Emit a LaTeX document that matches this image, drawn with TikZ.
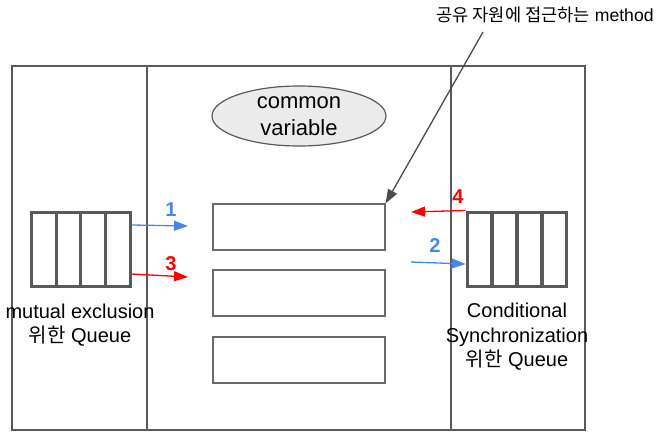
\documentclass[tikz,border=0pt]{standalone}
\usepackage{fontspec}
\setmainfont{Liberation Sans}
\newfontfamily\kr{Noto Sans CJK KR}
\usetikzlibrary{arrows.meta,shapes.geometric}
\definecolor{gline}{HTML}{595959}
\definecolor{qblue}{HTML}{4A86E8}
\definecolor{qred}{HTML}{FF0000}
\tikzset{
  cell/.style={draw=gline,line width=3pt,minimum width=24.75pt,minimum height=74pt,inner sep=0pt},
  slot/.style={draw=gline!90,line width=1.2pt,minimum width=172pt,minimum height=46pt,inner sep=0pt},
  lbl/.style={font=\fontsize{20}{24.5}\selectfont,align=center},
  num/.style={font=\fontsize{20}{20}\selectfont\bfseries},
  tip/.style={-{Triangle[length=14pt,width=10pt]},line width=1.3pt},
}
\begin{document}
\begin{tikzpicture}[x=1pt,y=-1pt]
  \useasboundingbox (0,0) rectangle (663,442);
  % monitor frame
  \draw[gline,line width=1.3pt] (12,66) rectangle (585,430);
  \draw[gline,line width=1.3pt] (147,66) -- (147,430);
  \draw[gline,line width=1.3pt] (451,66) -- (451,430);
  % shared part
  \node[ellipse,draw=gline,line width=1.2pt,fill=gray!16,minimum width=174pt,minimum height=60pt,
        label={[lbl,font=\fontsize{22}{27}\selectfont]center:common\\variable}] (cv) at (299,116) {};
  \node[slot] (m1) at (299,227) {};
  \node[slot] (m2) at (299,293) {};
  \node[slot] (m3) at (299,360) {};
  % queues
  \foreach \i in {1,...,4}
    \node[cell] (lq\i) at ({19.1+24.75*\i},249) {};
  \foreach \i in {1,...,4}
    \node[cell] (rq\i) at ({454.5+25*\i},249) {};
  \node[lbl] (lt) at (80,325) {mutual exclusion\\{\kr 위한} Queue};
  \node[lbl] (rt) at (517,337) {Conditional\\Synchronization\\{\kr 위한} Queue};
  \node[font=\fontsize{17.6}{17.6}\selectfont] (mt) at (545,15) {{\kr 공유 자원에 접근하는} method};
  % arrows
  \coordinate (m0) at (483,32);
  \coordinate (p1) at (188,226);
  \coordinate (p3) at (188,277);
  \coordinate (p4) at (411,212);
  \coordinate (p2) at (411,262);
  \draw[tip,gline!85!black] (m0) -- (m1.north east);
  \draw[tip,qblue] ([yshift=24pt]lq4.east) -- (p1);
  \draw[tip,qred] ([yshift=-25pt]lq4.east) -- (p3);
  \draw[tip,qred] (rq1.north west) -- (p4);
  \draw[tip,qblue] (p2) -- ([yshift=-15pt]rq1.west);
  \node[num,text=qblue] (n1) at (171,210) {1};
  \node[num,text=qblue] (n2) at (435,246) {2};
  \node[num,text=qred] (n3) at (171,264) {3};
  \node[num,text=qred] (n4) at (458,197) {4};
\end{tikzpicture}
\end{document}
